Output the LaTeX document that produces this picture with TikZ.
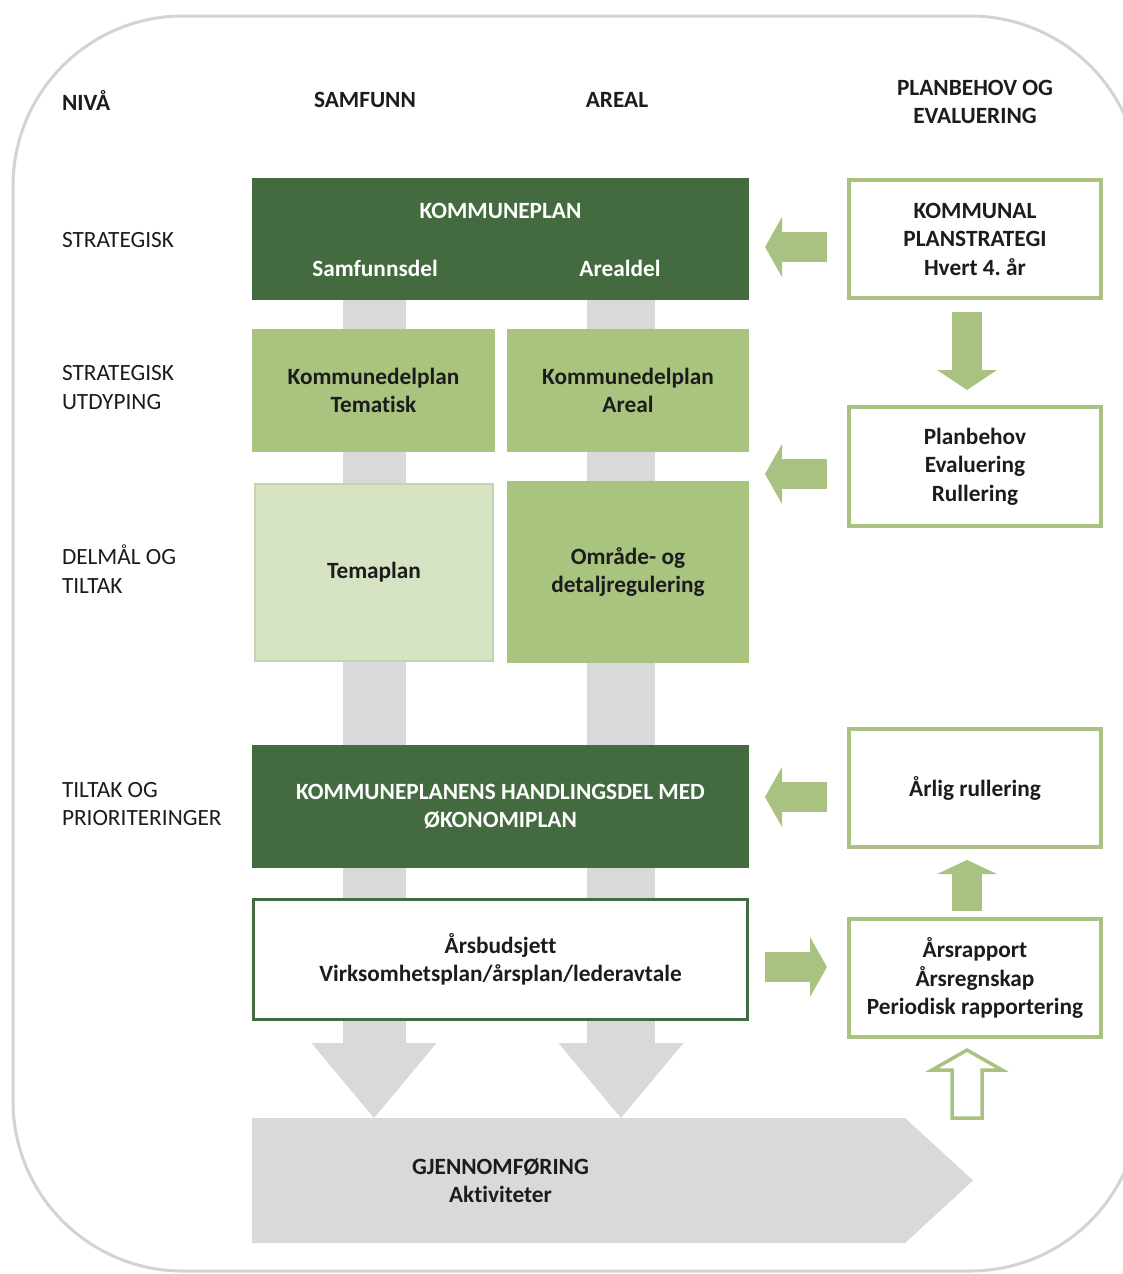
\documentclass[tikz,border=0pt]{standalone}
\usepackage{fontspec}
\setmainfont{Carlito}[Ligatures=NoCommon]
\usetikzlibrary{arrows.meta,calc}
\definecolor{dgreen}{HTML}{436B3F}
\definecolor{mgreen}{HTML}{A9C47F}
\definecolor{lgreen}{HTML}{D5E3C3}
\definecolor{lgborder}{HTML}{C3D6A9}
\definecolor{agreen}{HTML}{A9C281}
\definecolor{gbar}{HTML}{D9D9D9}
\definecolor{framec}{HTML}{D3D3D3}
\definecolor{txtc}{HTML}{1C1C1C}
\pgfdeclarelayer{bg}
\pgfsetlayers{bg,main}
\frenchspacing
\begin{document}
\frenchspacing
\begin{tikzpicture}[x=1pt,y=-1pt,
  every node/.style={outer sep=0pt, inner sep=0pt},
  bf/.style={font=\fontsize{23.3}{28.5}\selectfont\bfseries, text=txtc, align=center},
  rg/.style={font=\fontsize{23.3}{28.5}\selectfont, text=txtc, align=left, anchor=west},
  dbox/.style={bf, rectangle, fill=dgreen, text=white},
  mbox/.style={bf, rectangle, fill=mgreen},
  lbox/.style={bf, rectangle, fill=lgreen, draw=lgborder, line width=2pt},
  bbox/.style={bf, rectangle, fill=white, draw=dgreen, line width=3pt},
  wbox/.style={bf, rectangle, fill=white, draw=agreen, line width=4pt, minimum width=252pt},
  gjbox/.style={bf, rectangle, minimum width=497pt, minimum height=125pt},
  garrow/.style={draw=agreen, line width=30pt, -{Triangle[width=60pt,length=#1,line width=0pt]}},
  garrow/.default=17pt,
  grayarrow/.style={draw=gbar, line width=#1, -{Triangle[width=125pt,length=75pt,line width=0pt]}},
  hollowarrow/.style={draw=agreen, line width=3.5pt, fill=white, line join=miter}
]
\useasboundingbox (0,0) rectangle (1123,1274);
\begin{pgfonlayer}{bg}
\fill[white] (0,0) rectangle (1123,1274);
\draw[framec, line width=3pt, rounded corners=170pt] (13,16) rectangle (1140,1271);
\end{pgfonlayer}

% headers
\node[bf, anchor=west] (hniva) at (62,100) {NIVÅ};
\node[bf] (hsam) at (365,100) {SAMFUNN};
\node[bf] (hareal) at (617,100) {AREAL};
\node[bf] (hplan) at (975,102) {PLANBEHOV OG\\EVALUERING};

% row labels
\node[rg] (r1) at (62,240) {STRATEGISK};
\node[rg] (r2) at (62,387.5) {STRATEGISK\\UTDYPING};
\node[rg] (r3) at (62,569) {DELMÅL OG\\TILTAK};
\node[rg] (r4) at (62,804) {TILTAK OG\\PRIORITERINGER};

% main column boxes
\node[dbox, minimum width=497pt, minimum height=122pt] (kp) at (500.5,239) {};
\node[bf, text=white] (kpt) at (500.5,211) {KOMMUNEPLAN};
\node[bf, text=white] (kps) at (375,268) {Samfunnsdel};
\node[bf, text=white] (kpa) at (620,268) {Arealdel};
\node[mbox, minimum width=243pt, minimum height=123pt] (kdt) at (373.5,390.5) {Kommunedelplan\\Tematisk};
\node[mbox, minimum width=242pt, minimum height=123pt] (kda) at (628,390.5) {Kommunedelplan\\Areal};
\node[lbox, minimum width=238pt, minimum height=177pt] (tp) at (374,572.5) {Temaplan};
\node[mbox, minimum width=242pt, minimum height=182pt] (od) at (628,572) {Område- og\\detaljregulering};
\node[dbox, minimum width=497pt, minimum height=123pt] (hd) at (500.5,806.5) {KOMMUNEPLANENS HANDLINGSDEL MED\\ØKONOMIPLAN};
\node[bbox, minimum width=494pt, minimum height=120pt] (ab) at (500.5,959.5) {Årsbudsjett\\Virksomhetsplan/årsplan/lederavtale};
\node[gjbox] (gj) at (500.5,1180.5) {GJENNOMFØRING\\Aktiviteter};

% right column boxes
\node[wbox, minimum height=118pt] (ks) at (975,239) {KOMMUNAL\\PLANSTRATEGI\\Hvert 4. år};
\node[wbox, minimum height=119pt] (pb) at (975,466.5) {Planbehov\\Evaluering\\Rullering};
\node[wbox, minimum height=118pt] (ar) at (975,788) {Årlig rullering};
\node[wbox, minimum height=118pt] (rap) at (975,978) {Årsrapport\\Årsregnskap\\Periodisk rapportering};

% background: gray flow arrows and execution arrow
\begin{pgfonlayer}{bg}
\fill[gbar] (gj.north west) -- ($(gj.north west)+(653,0)$) -- ($(gj.west)+(721,0)$) -- ($(gj.south west)+(653,0)$) -- (gj.south west) -- cycle;
\draw[grayarrow=63pt] ($(kp.south west)+(122,0)$) -- ($(gj.north west)+(122,0)$);
\draw[grayarrow=68pt] ($(kp.south west)+(369,0)$) -- ($(gj.north west)+(369,0)$);
\end{pgfonlayer}

% green arrows
\draw[garrow] ($(ks.west)+(-22,8)$) -- ($(kp.east |- ks.west)+(16,8)$);
\draw[garrow=20pt] ($(ks.south)+(-8,14)$) -- ($(pb.north)+(-8,-17)$);
\draw[garrow] ($(pb.west)+(-22,7.5)$) -- ($(kda.east |- pb.west)+(16,7.5)$);
\draw[garrow] ($(ar.west)+(-22,9)$) -- ($(hd.east |- ar.west)+(16,9)$);
\draw[garrow] ($(ab.east |- rap.west)+(17.5,-11)$) -- ($(rap.west)+(-22,-11)$);
\draw[garrow=14pt] ($(rap.north)+(-8,-8)$) -- ($(ar.south)+(-8,13)$);
\draw[hollowarrow] ($(rap.south)+(-8,13)$) -- ++(35,20) -- ++(-20,0) -- ++(0,48) -- ++(-30,0) -- ++(0,-48) -- ++(-20,0) -- cycle;
\end{tikzpicture}
\end{document}
